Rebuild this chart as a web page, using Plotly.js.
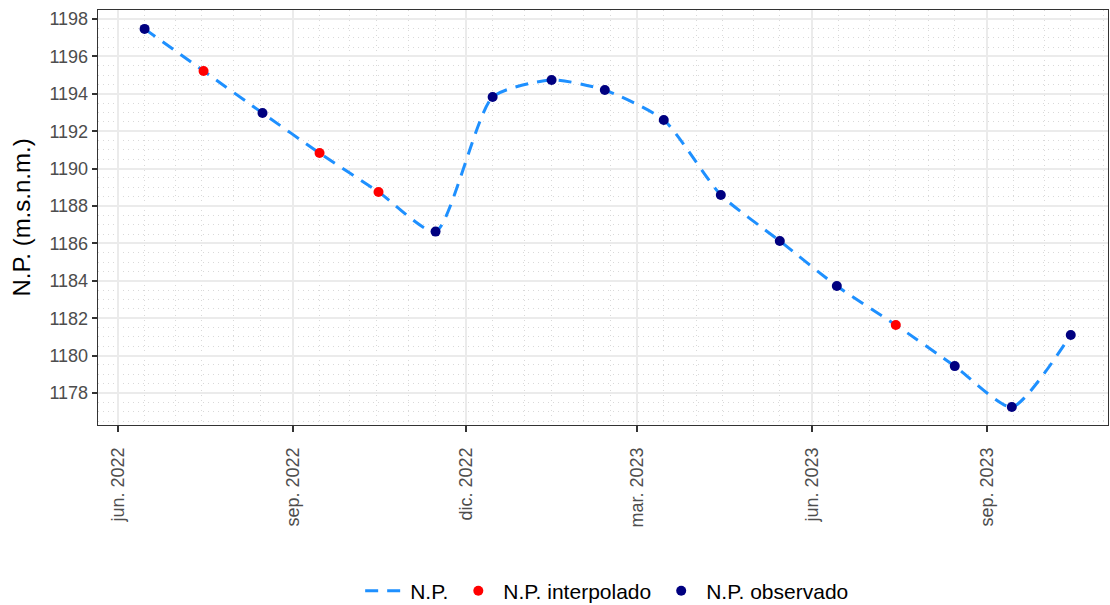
<!DOCTYPE html>
<html>
<head>
<meta charset="utf-8">
<script src="https://cdn.plot.ly/plotly-3.0.1.min.js"></script>
<style>html,body{margin:0;padding:0;background:#fff}#chart{width:1110px;height:605px}</style>
</head>
<body>
<div id="chart"></div>
<script>
const dates = ['2022-06-15','2022-07-16','2022-08-16','2022-09-15','2022-10-16','2022-11-15',
  '2022-12-15','2023-01-15','2023-02-12','2023-03-15','2023-04-14','2023-05-15',
  '2023-06-14','2023-07-15','2023-08-15','2023-09-14','2023-10-15'];
const levels = [1197.47,1195.22,1192.97,1190.83,1188.75,1186.63,
  1193.83,1194.74,1194.20,1192.60,1188.59,1186.13,
  1183.72,1181.64,1179.44,1177.25,1181.10];
const kind = ['obs','int','obs','int','int','obs',
  'obs','obs','obs','obs','obs','obs',
  'obs','int','obs','obs','obs'];
const tickDates = ['2022-06-01','2022-09-01','2022-12-01','2023-03-01','2023-06-01','2023-09-01'];
const tickLabels = ['jun. 2022','sep. 2022','dic. 2022','mar. 2023','jun. 2023','sep. 2023'];
const minorDates = ['2022-06-15','2022-07-01','2022-07-15','2022-08-01','2022-08-15','2022-09-15',
  '2022-10-01','2022-10-15','2022-11-01','2022-11-15','2022-12-15','2023-01-01','2023-01-15',
  '2023-02-01','2023-02-15','2023-03-15','2023-04-01','2023-04-15','2023-05-01','2023-05-15',
  '2023-06-15','2023-07-01','2023-07-15','2023-08-01','2023-08-15','2023-09-15','2023-10-01',
  '2023-10-15','2023-11-01'];
const yTicks = [1178,1180,1182,1184,1186,1188,1190,1192,1194,1196,1198];

const pick = k => ({
  x: dates.filter((d,i)=>kind[i]===k),
  y: levels.filter((v,i)=>kind[i]===k)
});
const pi = pick('int'), po = pick('obs');

const traces = [
  {x: dates, y: levels, type:'scatter', mode:'lines', name:'N.P.',
   line:{color:'#1E90FF', width:3, dash:'13px,9px', shape:'spline', smoothing:0.6}},
  {x: pi.x, y: pi.y, type:'scatter', mode:'markers', name:'N.P. interpolado',
   marker:{color:'#FF0000', size:10}},
  {x: po.x, y: po.y, type:'scatter', mode:'markers', name:'N.P. observado',
   marker:{color:'#000080', size:10}}
];

const layout = {
  width:1110, height:605,
  margin:{l:98, r:2, t:10, b:180},
  paper_bgcolor:'#fff', plot_bgcolor:'#fff',
  font:{family:'Liberation Sans, Arial, sans-serif', color:'#000'},
  showlegend:true,
  legend:{orientation:'h', xref:'container', yref:'container', x:0.547, xanchor:'center', y:0.023, yanchor:'middle',
    font:{size:21, color:'#000'}, itemwidth:40, tracegroupgap:0},
  xaxis:{
    type:'date', range:['2022-05-21 12:00','2023-11-03 14:00'],
    tickmode:'array', tickvals:tickDates, ticktext:tickLabels, tickangle:-90,
    tickfont:{size:18, color:'#4d4d4d'},
    ticks:'outside', ticklen:6, tickwidth:2, tickcolor:'#333',
    ticklabelstandoff:8,
    showgrid:true, gridcolor:'#ebebeb', gridwidth:2,
    showline:true, linecolor:'#333', linewidth:1.3, mirror:true,
    zeroline:false,
    minor:{tickmode:'array', tickvals:minorDates, showgrid:true, gridcolor:'#d9d9d9', gridwidth:1, griddash:'1px,4px', ticks:''}
  },
  yaxis:{
    range:[1176.29,1198.48],
    tickmode:'array', tickvals:yTicks, ticktext:yTicks.map(String),
    tickfont:{size:18, color:'#4d4d4d'},
    ticks:'outside', ticklen:5, tickwidth:2, tickcolor:'#333',
    showgrid:true, gridcolor:'#ebebeb', gridwidth:2,
    showline:true, linecolor:'#333', linewidth:1.3, mirror:true,
    zeroline:false,
    title:{text:'N.P. (m.s.n.m.)', font:{size:24, color:'#000'}, standoff:12},
    minor:{dtick:0.5, showgrid:true, gridcolor:'#d9d9d9', gridwidth:1, griddash:'1px,4px', ticks:''}
  }
};
Plotly.newPlot('chart', traces, layout, {displayModeBar:false, staticPlot:true});
</script>
</body>
</html>
